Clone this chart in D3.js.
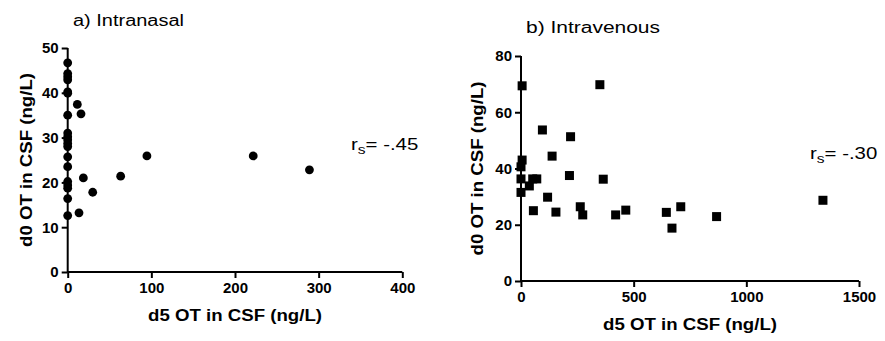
<!DOCTYPE html>
<html><head><meta charset="utf-8">
<script src="https://cdn.jsdelivr.net/npm/d3@7"></script>
<style>body{margin:0;background:#fff}svg{display:block}</style>
</head><body>
<svg id="c" width="885" height="341"></svg>
<script>
// Panel a) Intranasal
const inX = [0,0,0,0,0,0,0,0,0,0,0,0,0,0,0,0,0,0,0, 11.5,15.9,18.7,29.9,13.5,63.3,94.7,221.8,289];
const inY = [46.7,44.3,43.6,42.9,40.2,39.9,35.0,31.0,30.2,29.5,28.7,28.0,25.7,23.5,20.2,19.4,18.7,16.4,12.6, 37.4,35.3,21.0,17.8,13.2,21.4,25.9,25.9,22.8];
// Panel b) Intravenous
const ivX = [5,350,95,220,138,5,0,215,365,0,52,70,37,0,118,55,155,263,274,420,465,645,670,709,868,1340];
const ivY = [69.4,69.8,53.7,51.3,44.4,43.0,40.6,37.5,36.2,36.3,36.3,36.3,33.8,31.5,29.8,25.0,24.5,26.4,23.5,23.5,25.2,24.4,18.8,26.4,22.9,28.7];
const inXTicks = [0,100,200,300,400];
const inYTicks = [0,10,20,30,40,50];
const ivXTicks = [0,500,1000,1500];
const ivYTicks = [0,20,40,60,80];
const titles = ["a) Intranasal","b) Intravenous"];
const rsLabels = ["-.45","-.30"];
const xTitle = "d5 OT in CSF (ng/L)";
const yTitle = "d0 OT in CSF (ng/L)";

const svg = d3.select("#c");
const font = "Arial, 'Liberation Sans', sans-serif";

function panel(cfg){
  const g = svg.append("g");
  const x = d3.scaleLinear().domain(cfg.xd).range([cfg.x0,cfg.x1]);
  const y = d3.scaleLinear().domain(cfg.yd).range([cfg.y0,cfg.y1]);
  const xa = g.append("g").attr("transform",`translate(0,${cfg.y0})`)
    .call(d3.axisBottom(x).tickValues(cfg.xt).tickSize(6).tickPadding(4).tickFormat(d3.format("d")));
  const ya = g.append("g").attr("transform",`translate(${cfg.x0},0)`)
    .call(d3.axisLeft(y).tickValues(cfg.yt).tickSize(6).tickPadding(3).tickFormat(d3.format("d")));
  [xa,ya].forEach(a=>{
    a.select(".domain").attr("stroke","#000").attr("stroke-width",2).attr("d", a===xa ? `M${cfg.x0},0H${cfg.x1}` : `M0,${cfg.y0}V${cfg.y1}`);
    a.selectAll(".tick line").attr("stroke","#000").attr("stroke-width",2);
    a.selectAll(".tick text").attr("fill","#000").style("font-family",font).style("font-weight","bold").style("font-size","15px");
  });
  g.append("text").attr("x",(cfg.x0+cfg.x1)/2).attr("y",cfg.xtY).attr("text-anchor","middle")
    .attr("textLength",174).attr("lengthAdjust","spacingAndGlyphs")
    .style("font-family",font).style("font-weight","bold").style("font-size","16px").text(xTitle);
  g.append("text").attr("transform",`translate(${cfg.ytX},${(cfg.y0+cfg.y1)/2}) rotate(-90)`).attr("text-anchor","middle")
    .attr("textLength",174).attr("lengthAdjust","spacingAndGlyphs")
    .style("font-family",font).style("font-weight","bold").style("font-size","16px").text(yTitle);
  g.append("text").attr("x",cfg.tx).attr("y",cfg.ty).attr("textLength",cfg.tl).attr("lengthAdjust","spacingAndGlyphs")
    .style("font-family",font).style("font-size","16px").text(cfg.title);
  const rs = g.append("text").attr("transform",`translate(${cfg.rx},${cfg.ry}) scale(1.2,1)`)
    .style("font-family",font).style("font-size","17px");
  rs.append("tspan").text("r");
  rs.append("tspan").attr("dy",4).style("font-size","13px").text("s");
  rs.append("tspan").attr("dy",-4).text("= "+cfg.rs);
  const pts = d3.zip(cfg.xs,cfg.ys);
  if(cfg.shape==="circle"){
    g.selectAll("circle.p").data(pts).join("circle").attr("class","p")
      .attr("cx",d=>x(d[0])).attr("cy",d=>y(d[1])).attr("r",4.4).attr("fill","#000");
  } else {
    const s=9;
    g.selectAll("rect.p").data(pts).join("rect").attr("class","p")
      .attr("x",d=>x(d[0])-s/2).attr("y",d=>y(d[1])-s/2).attr("width",s).attr("height",s).attr("fill","#000");
  }
}

panel({xd:[0,400],yd:[0,50],x0:67.7,x1:402.3,y0:272,y1:48,xt:inXTicks,yt:inYTicks,
  xs:inX,ys:inY,shape:"circle",xtY:321,ytX:32,tx:73,ty:26,tl:111,title:titles[0],rx:351,ry:150,rs:rsLabels[0]});
panel({xd:[0,1500],yd:[0,80],x0:521,x1:859,y0:281,y1:56,xt:ivXTicks,yt:ivYTicks,
  xs:ivX,ys:ivY,shape:"square",xtY:330,ytX:483,tx:526,ty:33,tl:134,title:titles[1],rx:810,ry:159,rs:rsLabels[1]});
</script>
</body></html>
